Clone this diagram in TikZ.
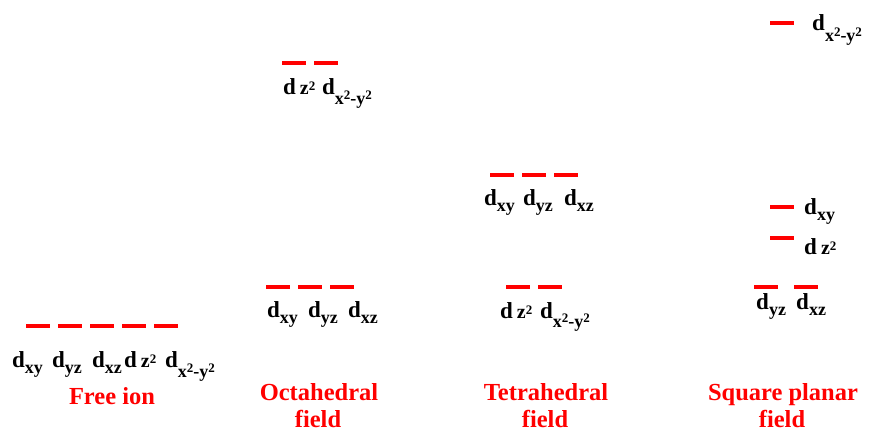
\documentclass[tikz,border=0pt]{standalone}
\usepackage{fontspec}
\setmainfont{Liberation Serif}
\newcommand\subf{\fontsize{18}{18}\selectfont}
\newcommand\supt[1]{\raisebox{#1pt}{\fontsize{13}{13}\selectfont 2}}
\newcommand\ds[1]{d\raisebox{-6pt}{\subf #1}}
\newcommand\dzz{d\hspace{4pt}{\fontsize{20}{20}\selectfont z\supt{4}}}
\newcommand\dxx[1]{d\raisebox{-#1pt}{\subf x\supt{5}-y\supt{5}}}
\tikzset{
  lvl/.style={red, line width=4pt},
  lab/.style={anchor=base west, inner sep=0pt, font=\bfseries\fontsize{23}{23}\selectfont},
  captxt/.style={anchor=base, inner sep=0pt, text=red, font=\bfseries\fontsize{24.5}{29}\selectfont}
}
\begin{document}
\begin{tikzpicture}[x=1pt,y=-1pt]
\useasboundingbox[fill=white] (0,0) rectangle (870,432);
% Free ion
\foreach \x in {26,58,90,122,154} \draw[lvl] (\x,326) -- ++(24,0);
\node[lab] (f1) at (12,367) {\ds{xy}};
\node[lab] (f2) at (52,367) {\ds{yz}};
\node[lab] (f3) at (92,367) {\ds{xz}};
\node[lab] (f4) at (124,367) {\dzz};
\node[lab] (f5) at (165,367) {\dxx{10}};
\node[captxt] (fc) at (112,404) {Free ion};
% Octahedral
\foreach \x in {282,314} \draw[lvl] (\x,63) -- ++(24,0);
\node[lab] (o1) at (283,94) {\dzz};
\node[lab] (o2) at (322,94) {\dxx{10}};
\foreach \x in {266,298,330} \draw[lvl] (\x,287) -- ++(24,0);
\node[lab] (o3) at (267,317) {\ds{xy}};
\node[lab] (o4) at (308,317) {\ds{yz}};
\node[lab] (o5) at (348,317) {\ds{xz}};
\node[captxt] (oc1) at (319,400) {Octahedral};
\node[captxt] (oc2) at (318,427) {field};
% Tetrahedral
\foreach \x in {490,522,554} \draw[lvl] (\x,175) -- ++(24,0);
\node[lab] (t1) at (484,205) {\ds{xy}};
\node[lab] (t2) at (523,205) {\ds{yz}};
\node[lab] (t3) at (564,205) {\ds{xz}};
\foreach \x in {506,538} \draw[lvl] (\x,287) -- ++(24,0);
\node[lab] (t4) at (500,318) {\dzz};
\node[lab] (t5) at (540,318) {\dxx{9}};
\node[captxt] (tc1) at (546,400) {Tetrahedral};
\node[captxt] (tc2) at (545,427) {field};
% Square planar
\draw[lvl] (770,23) -- ++(24,0);
\node[lab] (s1) at (812,30) {\dxx{11}};
\draw[lvl] (770,207) -- ++(24,0);
\node[lab] (s2) at (804,214) {\ds{xy}};
\draw[lvl] (770,238) -- ++(24,0);
\node[lab] (s3) at (804,254) {\dzz};
\foreach \x in {754,794} \draw[lvl] (\x,287) -- ++(24,0);
\node[lab] (s4) at (756,309) {\ds{yz}};
\node[lab] (s5) at (796,309) {\ds{xz}};
\node[captxt] (sc1) at (783,400) {Square planar};
\node[captxt] (sc2) at (782,427) {field};
\end{tikzpicture}
\end{document}
